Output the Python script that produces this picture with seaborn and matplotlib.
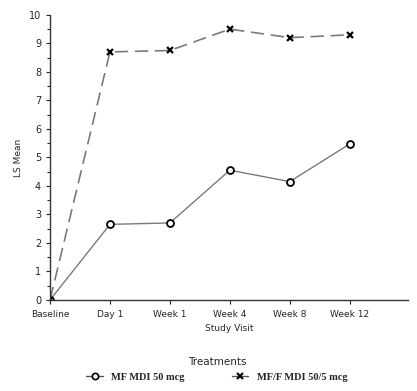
import pandas as pd
import matplotlib.pyplot as plt
import seaborn as sns
from matplotlib.lines import Line2D
from matplotlib.ticker import MultipleLocator

# Dados
visitas = ['Baseline', 'Day 1', 'Week 1', 'Week 4', 'Week 8', 'Week 12']
mf = [0, 2.65, 2.7, 4.55, 4.15, 5.47]
mff = [0, 8.7, 8.75, 9.5, 9.2, 9.3]
rotulos = ['MF MDI 50 mcg', 'MF/F MDI 50/5 mcg']

df = pd.DataFrame({
    'Study Visit': visitas * 2,
    'LS Mean': mf + mff,
    'Treatment': [rotulos[0]] * len(visitas) + [rotulos[1]] * len(visitas),
})
df['pos'] = list(range(len(visitas))) * 2

sns.set_style('ticks')
fig = plt.figure(figsize=(4.17, 3.91), dpi=100)
ax = fig.add_axes([0.12, 0.233, 0.858, 0.729])

d1 = df[df['Treatment'] == rotulos[0]]
d2 = df[df['Treatment'] == rotulos[1]]
sns.lineplot(data=d1, x='pos', y='LS Mean', ax=ax, color='#7a7a7a', lw=1.0,
             marker='o', markersize=5, markerfacecolor='white',
             markeredgecolor='black', markeredgewidth=1.3)
sns.lineplot(data=d2, x='pos', y='LS Mean', ax=ax, color='#7a7a7a', lw=1.2,
             dashes=False, marker='x', markersize=5, markeredgecolor='black',
             markeredgewidth=1.6)
ax.lines[-1].set_dashes([8, 4])

ax.set_xlim(0, 5.97)
ax.set_ylim(0, 10)
ax.set_xticks(range(len(visitas)))
ax.set_xticklabels(visitas, fontsize=6.5)
ax.yaxis.set_major_locator(MultipleLocator(1))
ax.yaxis.set_minor_locator(MultipleLocator(0.5))
ax.tick_params(axis='y', labelsize=7, length=3, width=0.8)
ax.tick_params(axis='y', which='minor', length=2, width=0.8)
ax.tick_params(axis='x', length=3, width=0.8, pad=4)
ax.set_xlabel('Study Visit', fontsize=6.5)
ax.set_ylabel('LS Mean', fontsize=6.5)
sns.despine(ax=ax)
for s in ['left', 'bottom']:
    ax.spines[s].set_linewidth(1.0)
    ax.spines[s].set_color('#333333')

handles = [
    Line2D([], [], color='#555555', lw=1, marker='o', markersize=4.5,
           markerfacecolor='white', markeredgecolor='black', markeredgewidth=1.2),
    Line2D([], [], color='#555555', lw=1, marker='x', markersize=4.5,
           markeredgecolor='black', markeredgewidth=1.5),
]
leg = fig.legend(handles, rotulos, loc='lower center', bbox_to_anchor=(0.52, 0.0),
                 ncol=2, frameon=False, title='Treatments', handlelength=1.6,
                 columnspacing=4.5, prop={'family': 'Liberation Serif',
                                          'weight': 'bold', 'size': 7.5})
leg.get_title().set_fontsize(7.5)

fig.savefig('out.png', dpi=100)
